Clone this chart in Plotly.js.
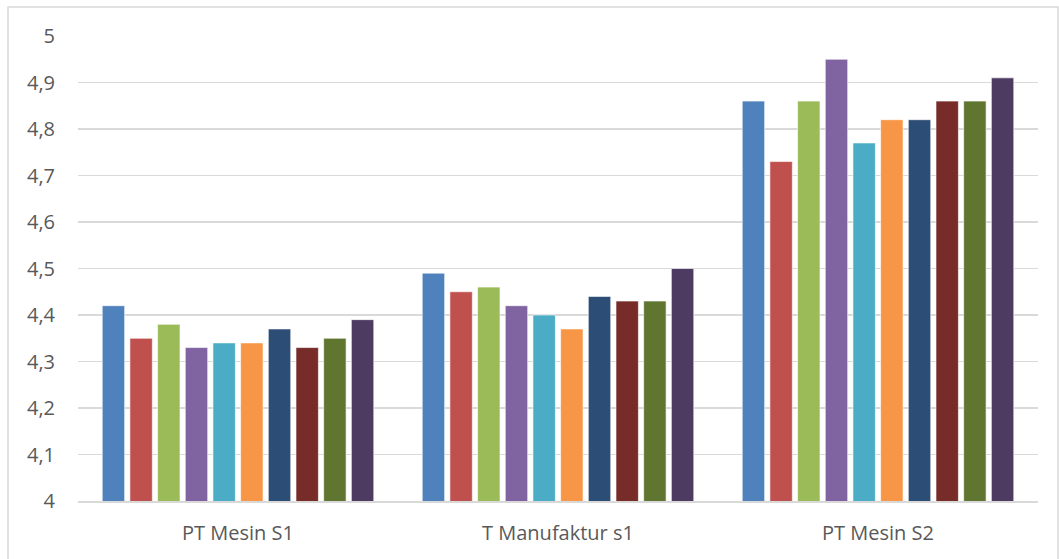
<!DOCTYPE html>
<html>
<head>
<meta charset="utf-8">
<script src="https://cdn.plot.ly/plotly-3.0.1.min.js"></script>
<style>html,body{margin:0;padding:0;background:#fff;}#chart{width:1059px;height:559px;}</style>
</head>
<body>
<div id="chart"></div>
<script>
const categories = ["PT Mesin S1", "T Manufaktur s1", "PT Mesin S2"];
const series1 = [4.42, 4.49, 4.86];
const series2 = [4.35, 4.45, 4.73];
const series3 = [4.38, 4.46, 4.86];
const series4 = [4.33, 4.42, 4.95];
const series5 = [4.34, 4.40, 4.77];
const series6 = [4.34, 4.37, 4.82];
const series7 = [4.37, 4.44, 4.82];
const series8 = [4.33, 4.43, 4.86];
const series9 = [4.35, 4.43, 4.86];
const series10 = [4.39, 4.50, 4.91];
const seriesNames = ["Series1","Series2","Series3","Series4","Series5","Series6","Series7","Series8","Series9","Series10"];
const colors = ["#4F81BD","#C0504D","#9BBB59","#8064A2","#4BACC6","#F79646","#2C4D75","#772C2A","#5F7530","#4D3B62"];

const allSeries = [series1,series2,series3,series4,series5,series6,series7,series8,series9,series10];
const data = allSeries.map((vals, i) => ({
  type: "bar",
  name: seriesNames[i],
  x: categories,
  y: vals,
  base: 0,
  marker: {color: colors[i], line: {color: "rgba(255,255,255,0.6)", width: 1}},
  hoverinfo: "x+y"
}));

const layout = {
  width: 1059, height: 559,
  margin: {l: 78, r: 21, t: 36, b: 58},
  paper_bgcolor: "#ffffff",
  plot_bgcolor: "#ffffff",
  separators: ", ",
  showlegend: false,
  barmode: "group",
  bargap: 0.135,
  bargroupgap: 0.19,
  font: {family: "Open Sans, Calibri, sans-serif", color: "#595959"},
  xaxis: {
    showgrid: false, zeroline: false,
    showline: true, linecolor: "#d9d9d9", linewidth: 1.5,
    ticks: "", tickfont: {size: 20, color: "#595959"},
    ticklabelstandoff: 13
  },
  yaxis: {
    range: [4, 5], dtick: 0.1, tick0: 4,
    showgrid: true, gridcolor: "#d9d9d9", gridwidth: 1.5,
    zeroline: false, showline: false, ticks: "",
    tickfont: {size: 20, color: "#595959"},
    ticklabelstandoff: 22
  },
  shapes: [{
    type: "rect", xref: "paper", yref: "paper",
    x0: -70/960, x1: 1+20/960, y0: -60/465, y1: 1+29/465,
    line: {color: "#d9d9d9", width: 1.5}, fillcolor: "rgba(0,0,0,0)", layer: "below"
  }]
};

Plotly.newPlot("chart", data, layout, {displayModeBar: false, staticPlot: true});
</script>
</body>
</html>
